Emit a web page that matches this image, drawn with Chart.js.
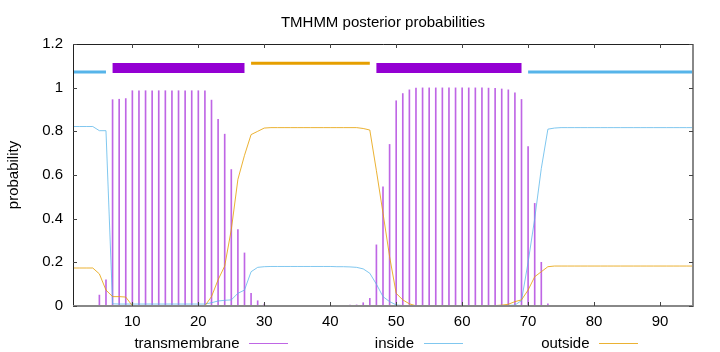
<!DOCTYPE html>
<html><head><meta charset="utf-8">
<script src="https://cdn.jsdelivr.net/npm/chart.js@4/dist/chart.umd.min.js"></script>
<style>html,body{margin:0;padding:0;background:#fff;overflow:hidden}#wrap{width:720px;height:352px;position:relative}</style>
</head><body><div id="wrap"><canvas id="c" width="720" height="352"></canvas></div>
<script>
// ---- data ----
const positions = [
  1,2,3,4,5,6,7,8,9,10,
  11,12,13,14,15,16,17,18,19,20,
  21,22,23,24,25,26,27,28,29,30,
  31,32,33,34,35,36,37,38,39,40,
  41,42,43,44,45,46,47,48,49,50,
  51,52,53,54,55,56,57,58,59,60,
  61,62,63,64,65,66,67,68,69,70,
  71,72,73,74,75,76,77,78,79,80,
  81,82,83,84,85,86,87,88,89,90,
  91,92,93,94,95];
const transmembrane = [
  0, 0, 0, 0, 0.05, 0.12, 0.945, 0.947, 0.95, 0.986,
  0.986, 0.986, 0.986, 0.986, 0.986, 0.986, 0.986, 0.986, 0.986, 0.986,
  0.986, 0.943, 0.855, 0.787, 0.625, 0.35, 0.243, 0.058, 0.024, 0.009,
  0.002, 0.002, 0.002, 0.002, 0.002, 0.002, 0.002, 0.002, 0.002, 0.002,
  0.002, 0.002, 0.004, 0.005, 0.015, 0.035, 0.28, 0.546, 0.74, 0.94,
  0.973, 0.99, 0.998, 0.999, 0.999, 0.999, 0.999, 0.999, 0.999, 0.999,
  0.999, 0.999, 0.999, 0.998, 0.997, 0.994, 0.99, 0.976, 0.946, 0.73,
  0.47, 0.2, 0.01, 0.003, 0.002, 0.001, 0.001, 0.001, 0.001, 0.001,
  0.001, 0.001, 0.001, 0.001, 0.001, 0.001, 0.001, 0.001, 0.001, 0.001,
  0.001, 0.001, 0.001, 0.001, 0.001];
const inside = [
  0.822, 0.822, 0.822, 0.822, 0.803, 0.803, 0.01, 0.009, 0.009, 0.009,
  0.009, 0.009, 0.009, 0.009, 0.009, 0.009, 0.009, 0.009, 0.009, 0.009,
  0.009, 0.015, 0.023, 0.026, 0.028, 0.058, 0.073, 0.157, 0.177, 0.18,
  0.181, 0.181, 0.181, 0.181, 0.181, 0.181, 0.181, 0.181, 0.181, 0.181,
  0.18, 0.18, 0.179, 0.177, 0.17, 0.15, 0.10, 0.043, 0.02, 0.005,
  0.002, 0.002, 0.002, 0.002, 0.002, 0.002, 0.002, 0.002, 0.002, 0.002,
  0.002, 0.002, 0.002, 0.002, 0.002, 0.002, 0.003, 0.004, 0.025, 0.2,
  0.4, 0.63, 0.81, 0.815, 0.817, 0.817, 0.817, 0.817, 0.817, 0.817,
  0.817, 0.817, 0.817, 0.817, 0.817, 0.817, 0.817, 0.817, 0.817, 0.817,
  0.817, 0.817, 0.817, 0.817, 0.817];
const outside = [
  0.174, 0.174, 0.174, 0.174, 0.147, 0.073, 0.043, 0.043, 0.041, 0.001,
  0.001, 0.001, 0.001, 0.001, 0.001, 0.001, 0.001, 0.001, 0.001, 0.001,
  0.001, 0.043, 0.12, 0.183, 0.35, 0.58, 0.69, 0.785, 0.80, 0.815,
  0.817, 0.817, 0.817, 0.817, 0.817, 0.817, 0.817, 0.817, 0.817, 0.817,
  0.817, 0.817, 0.817, 0.817, 0.813, 0.806, 0.62, 0.425, 0.226, 0.058,
  0.028, 0.01, 0.001, 0.001, 0.001, 0.001, 0.001, 0.001, 0.001, 0.001,
  0.001, 0.001, 0.001, 0.001, 0.002, 0.004, 0.008, 0.02, 0.028, 0.073,
  0.134, 0.157, 0.18, 0.183, 0.183, 0.183, 0.183, 0.183, 0.183, 0.183,
  0.183, 0.183, 0.183, 0.183, 0.183, 0.183, 0.183, 0.183, 0.183, 0.183,
  0.183, 0.183, 0.183, 0.183, 0.183];
const tmRegions = [[7, 27], [47, 69]];
const insideRegions = [[1, 6], [70, 95]];
const outsideRegions = [[28, 46]];
const xTickValues = [10, 20, 30, 40, 50, 60, 70, 80, 90];
const xTickLabels = ['10', '20', '30', '40', '50', '60', '70', '80', '90'];
const yTickValues = [0, 0.2, 0.4, 0.6, 0.8, 1, 1.2];
const yTickLabels = ['0', '0.2', '0.4', '0.6', '0.8', '1', '1.2'];
const seriesNames = ['transmembrane', 'inside', 'outside'];
const chartTitle = 'TMHMM posterior probabilities';
const yAxisTitle = 'probability';

// ---- styling ----
const FONT = '"Liberation Sans", Arial, Helvetica, sans-serif';
const C_TM = '#9400d3', C_IN = '#56b4e9', C_OUT = '#e69f00';
const C_TM_THIN = 'rgba(148,0,211,0.6)';
const C_IN_THIN = 'rgba(86,180,233,0.75)';
const C_OUT_THIN = 'rgba(230,159,0,0.8)';

function pts(vals) { return positions.map((p, i) => ({x: p, y: vals[i]})); }
function band(regions, level) {
  const out = [];
  regions.forEach((r, i) => {
    if (i) out.push({x: (regions[i - 1][1] + r[0]) / 2, y: null});
    out.push({x: r[0], y: level}, {x: r[1], y: level});
  });
  return out;
}

const decor = {
  id: 'decor',
  beforeDraw(chart) {
    const ctx = chart.ctx;
    ctx.save(); ctx.fillStyle = '#fff'; ctx.fillRect(0, 0, chart.width, chart.height); ctx.restore();
  },
  afterDraw(chart) {
    const ctx = chart.ctx, a = chart.chartArea, xs = chart.scales.x, ys = chart.scales.y;
    ctx.save();
    // borders
    ctx.strokeStyle = '#222'; ctx.lineWidth = 1;
    ctx.beginPath();
    ctx.moveTo(a.left + 0.5, a.bottom); ctx.lineTo(a.left + 0.5, a.top + 0.5); ctx.lineTo(a.right, a.top + 0.5);
    ctx.stroke();
    ctx.strokeStyle = '#888'; ctx.lineWidth = 2;
    ctx.beginPath();
    ctx.moveTo(a.left, a.bottom); ctx.lineTo(a.right, a.bottom); ctx.lineTo(a.right, a.top);
    ctx.stroke();
    // inward ticks
    ctx.strokeStyle = '#444'; ctx.lineWidth = 1;
    ctx.beginPath();
    xTickValues.forEach(v => {
      const px = Math.round(xs.getPixelForValue(v)) + 0.5;
      ctx.moveTo(px, a.bottom); ctx.lineTo(px, a.bottom - 4);
      ctx.moveTo(px, a.top); ctx.lineTo(px, a.top + 4);
    });
    yTickValues.forEach(v => {
      const py = Math.round(ys.getPixelForValue(v)) + 0.5;
      ctx.moveTo(a.left, py); ctx.lineTo(a.left + 4, py);
      ctx.moveTo(a.right, py); ctx.lineTo(a.right - 4, py);
    });
    ctx.stroke();
    // title
    ctx.fillStyle = '#000';
    ctx.font = '15px ' + FONT;
    ctx.textAlign = 'center'; ctx.textBaseline = 'alphabetic';
    ctx.fillText(chartTitle, (a.left + a.right) / 2, 27);
    // y title
    ctx.save();
    ctx.translate(14, (a.top + a.bottom) / 2);
    ctx.rotate(-Math.PI / 2);
    ctx.textBaseline = 'middle';
    ctx.fillText(yAxisTitle, 0, 0);
    ctx.restore();
    // legend
    const items = [
      {name: seriesNames[0], tx: 239.5, l0: 249, l1: 288, c: C_TM_THIN},
      {name: seriesNames[1], tx: 414, l0: 424, l1: 463, c: C_IN_THIN},
      {name: seriesNames[2], tx: 589.5, l0: 599, l1: 638, c: C_OUT_THIN}
    ];
    ctx.textAlign = 'right'; ctx.textBaseline = 'alphabetic';
    items.forEach(it => {
      ctx.fillStyle = '#000';
      ctx.fillText(it.name, it.tx, 348);
      ctx.strokeStyle = it.c; ctx.lineWidth = 1;
      ctx.beginPath(); ctx.moveTo(it.l0, 343.5); ctx.lineTo(it.l1, 343.5); ctx.stroke();
    });
    ctx.restore();
  }
};

Chart.defaults.font.family = FONT;
Chart.defaults.font.size = 15;
Chart.defaults.color = '#000';

new Chart(document.getElementById('c'), {
  type: 'bar',
  data: {
    datasets: [
      {type: 'line', label: 'tm-band', data: band(tmRegions, 1.09), borderColor: C_TM, borderWidth: 10,
        borderCapStyle: 'butt', pointRadius: 0, spanGaps: false, order: 0},
      {type: 'line', label: 'in-band', data: band(insideRegions, 1.072), borderColor: C_IN, borderWidth: 3,
        borderCapStyle: 'butt', pointRadius: 0, spanGaps: false, order: 0},
      {type: 'line', label: 'out-band', data: band(outsideRegions, 1.112), borderColor: C_OUT, borderWidth: 3,
        borderCapStyle: 'butt', pointRadius: 0, spanGaps: false, order: 0},
      {type: 'line', label: seriesNames[2], data: pts(outside), borderColor: C_OUT_THIN, borderWidth: 1,
        pointRadius: 0, tension: 0, order: 1},
      {type: 'line', label: seriesNames[1], data: pts(inside), borderColor: C_IN_THIN, borderWidth: 1,
        pointRadius: 0, tension: 0, order: 2},
      {type: 'bar', label: seriesNames[0], data: pts(transmembrane), backgroundColor: C_TM_THIN,
        barThickness: 1, borderWidth: 0, order: 3}
    ]
  },
  options: {
    responsive: false, animation: false, devicePixelRatio: 1,
    layout: {padding: {top: 44, right: 27, left: 0, bottom: 0}},
    plugins: {legend: {display: false}, title: {display: false}, tooltip: {enabled: false}},
    scales: {
      x: {
        type: 'linear', min: 1, max: 95, offset: false,
        grid: {display: false, drawTicks: false, offset: false},
        border: {display: false},
        ticks: {padding: 7, color: '#000', font: {size: 15}, maxRotation: 0, autoSkip: false,
          callback: (v, i) => xTickLabels[i]},
        afterBuildTicks: s => { s.ticks = xTickValues.map(v => ({value: v})); },
        afterFit: s => { s.height = 46; }
      },
      y: {
        type: 'linear', min: 0, max: 1.2,
        grid: {display: false, drawTicks: false},
        border: {display: false},
        ticks: {padding: 10, color: '#000', font: {size: 15},
          callback: (v, i) => yTickLabels[i]},
        afterBuildTicks: s => { s.ticks = yTickValues.map(v => ({value: v})); },
        afterFit: s => { s.width = 73; }
      }
    }
  },
  plugins: [decor]
});
</script>
</body></html>
